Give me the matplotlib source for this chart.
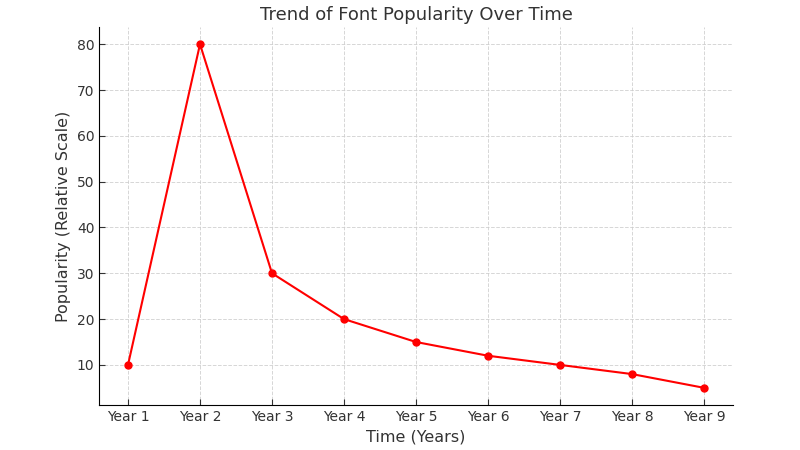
import matplotlib
matplotlib.use("Agg")
import matplotlib.pyplot as plt

# data
years = ["Year 1", "Year 2", "Year 3", "Year 4", "Year 5",
         "Year 6", "Year 7", "Year 8", "Year 9"]
popularity = [10, 80, 30, 20, 15, 12, 10, 8, 5]

fig = plt.figure(figsize=(8, 4.5), dpi=100)
ax = fig.add_axes([0.124, 0.10, 0.792, 0.84])

ax.plot(years, popularity, color="red", marker="o", markersize=5, linewidth=1.5)

ax.set_title("Trend of Font Popularity Over Time", fontsize=13, color="#333333", pad=5)
ax.set_xlabel("Time (Years)", fontsize=11.5, color="#333333")
ax.set_ylabel("Popularity (Relative Scale)", fontsize=11.5, color="#333333")

ax.grid(True, linestyle="--", color="#cccccc", linewidth=0.7, alpha=0.8)
ax.set_axisbelow(True)
for side in ("top", "right"):
    ax.spines[side].set_visible(False)
ax.tick_params(direction="in", labelsize=10, colors="#333333", length=4)

fig.savefig("out.png", dpi=100)
